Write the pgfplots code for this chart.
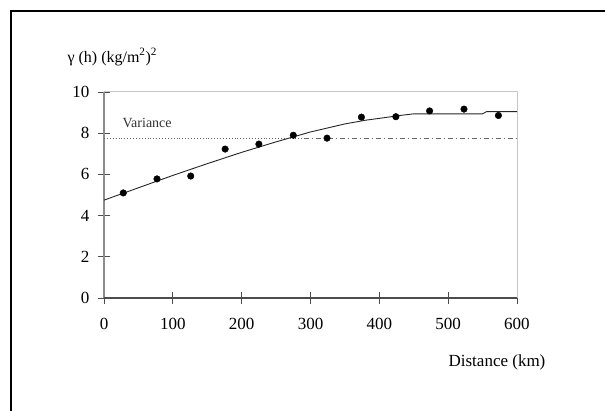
\documentclass[border=0pt]{standalone}
\usepackage{pgfplots}
\pgfplotsset{compat=1.18}
\usepackage{fontspec}
\setmainfont{Liberation Serif}
\begin{document}
\begin{tikzpicture}[x=1pt,y=1pt]
\path[use as bounding box] (0,0) rectangle (605,411);
\draw[line width=1.4pt, black] (11,0) -- (11,400) -- (605,400);
\begin{axis}[
  at={(104pt,113pt)}, anchor=south west,
  scale only axis, width=413pt, height=206pt,
  xmin=0, xmax=600, ymin=0, ymax=10,
  xtick={0,100,...,600}, ytick={0,2,...,10},
  axis line style={draw=none},
  tick align=center, major tick length=12pt,
  tick style={black!70, line width=0.9pt},
  xtick pos=left, ytick pos=left,
  ticklabel style={font=\fontsize{17}{20}\selectfont},
  xticklabel style={yshift=-11pt},
  yticklabel style={xshift=-5pt},
  /pgf/number format/assume math mode=true,
  clip=false,
]
% frame lines
\draw[black!22, line width=1pt] (axis cs:0,10) -- (axis cs:600,10) -- (axis cs:600,0);
\draw[black!45, line width=1.8pt] (axis cs:0,0) -- (axis cs:0,10);
\draw[black!70, line width=1.3pt] (axis cs:0,0) -- (axis cs:600,0);
% variance line
\addplot[black!60, line width=0.9pt, dotted] coordinates {(0,7.75) (290,7.75)};
\addplot[black!60, line width=0.9pt, dash pattern=on 5pt off 3pt on 1pt off 3pt] coordinates {(290,7.75) (600,7.75)};
% fitted model
\addplot[black!85, line width=0.9pt] coordinates {
(0,4.75) (50,5.35) (100,5.95) (150,6.52) (200,7.07) (250,7.58) (300,8.06) (350,8.45) (380,8.63) (400,8.72) (430,8.86) (450,8.94) (550,8.94) (556,9.05) (600,9.05)};
% experimental points
\addplot[only marks, mark=*, mark size=3.3pt, black] coordinates {
(28,5.10) (77,5.78) (126,5.92) (176,7.23) (225,7.47) (275,7.90) (324,7.76) (374,8.78) (424,8.80) (473,9.08) (523,9.17) (573,8.86)};
\node[anchor=base west, font=\fontsize{14}{16}\selectfont, black!80] at (axis cs:22,8.3) {Variance};
\end{axis}
\node[anchor=west, font=\fontsize{16}{19}\selectfont] at (64,354) {γ (h) (kg/m\textsuperscript{2})\textsuperscript{2}};
\node[font=\fontsize{17}{20}\selectfont] at (497,49) {Distance (km)};
\end{tikzpicture}
\end{document}
